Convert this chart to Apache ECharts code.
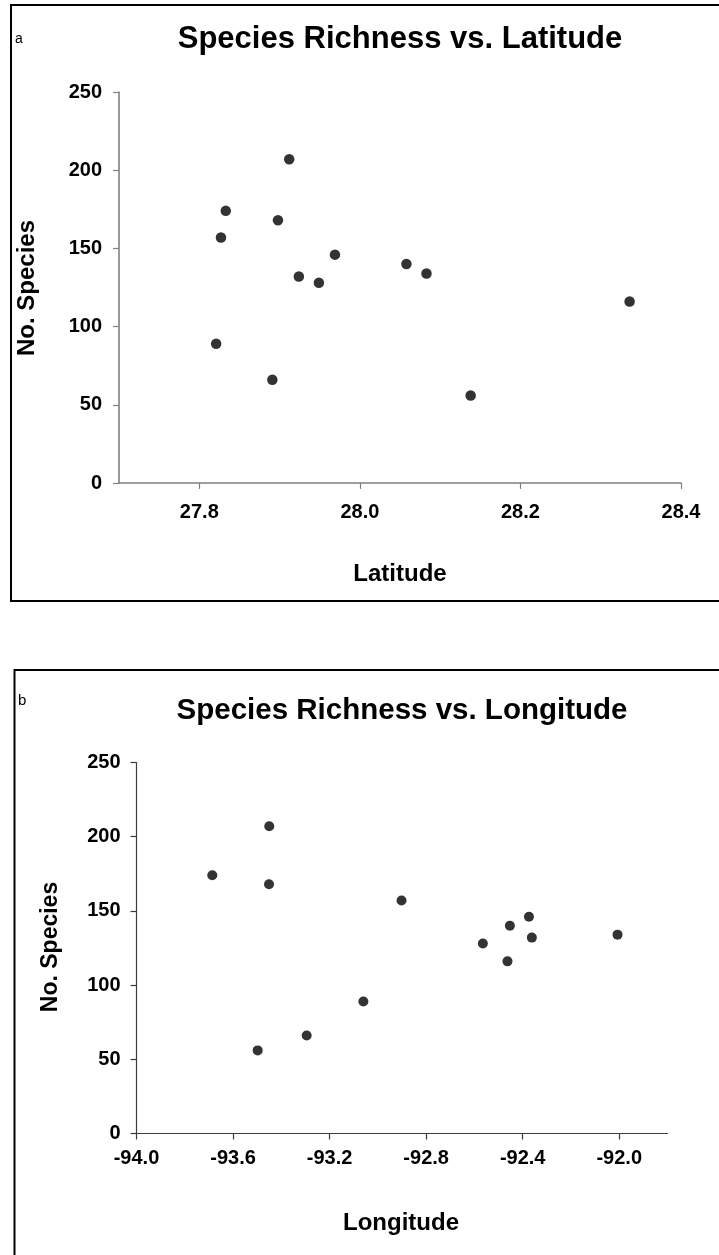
<!DOCTYPE html>
<html>
<head>
<meta charset="utf-8">
<script src="https://cdn.jsdelivr.net/npm/echarts@6/dist/echarts.min.js"></script>
<style>
  html, body { margin: 0; padding: 0; background: #fff; }
  #chart { width: 719px; height: 1255px; }
</style>
</head>
<body>
<div id="chart"></div>
<script>
// Survey sites: latitude, longitude and number of species recorded
const latitude  = [27.912, 27.833, 27.898, 27.827, 27.969, 28.058, 28.083, 27.924, 27.949, 28.336, 27.821, 27.891, 28.138];
const longitude = [-93.450, -93.686, -93.451, -92.902, -92.374, -92.453, -92.007, -92.362, -92.565, -92.463, -93.060, -93.295, -93.498];
const species   = [207, 174, 168, 157, 146, 140, 134, 132, 128, 116, 89, 66, 56];

const latTicks = [27.8, 28.0, 28.2, 28.4];
const lonTicks = [-94.0, -93.6, -93.2, -92.8, -92.4, -92.0];
const speciesTicks = [0, 50, 100, 150, 200, 250];

const FONT = '"Liberation Sans", Arial, sans-serif';

const latPoints = latitude.map((v, i) => [v, species[i]]);
const lonPoints = longitude.map((v, i) => [v, species[i]]);

function yAxisFor(gridIndex, color, margin) {
  return {
    type: 'value', gridIndex: gridIndex,
    min: speciesTicks[0], max: speciesTicks[speciesTicks.length - 1], interval: 50,
    splitLine: { show: false },
    axisLine: { show: true, lineStyle: { color: color, width: gridIndex === 0 ? 1.6 : 1.2 } },
    axisTick: { show: true, inside: false, length: 6, lineStyle: { color: color, width: 1.2 } },
    axisLabel: { color: '#000', fontFamily: FONT, fontWeight: 'bold', fontSize: 20, margin: margin }
  };
}

const chart = echarts.init(document.getElementById('chart'), null, { renderer: 'canvas' });

chart.setOption({
  animation: false,
  backgroundColor: '#fff',
  grid: [
    { left: 119, top: 92, width: 562, height: 391 },
    { left: 136.5, top: 762.5, width: 531, height: 371 }
  ],
  xAxis: [
    {
      type: 'value', gridIndex: 0, min: 27.7, max: 28.4,
      splitLine: { show: false },
      axisLine: { show: true, onZero: false, lineStyle: { color: '#808080', width: 1.6 } },
      axisTick: { show: true, length: 6, customValues: latTicks, lineStyle: { color: '#808080', width: 1.2 } },
      axisLabel: {
        customValues: latTicks, color: '#000', fontFamily: FONT, fontWeight: 'bold', fontSize: 20, margin: 19,
        formatter: v => v.toFixed(1)
      }
    },
    {
      type: 'value', gridIndex: 1, min: -94.0, max: -91.8,
      splitLine: { show: false },
      axisLine: { show: true, onZero: false, lineStyle: { color: '#3c3c3c', width: 1.2 } },
      axisTick: { show: true, length: 6, customValues: lonTicks, lineStyle: { color: '#3c3c3c', width: 1.2 } },
      axisLabel: {
        customValues: lonTicks, color: '#000', fontFamily: FONT, fontWeight: 'bold', fontSize: 20, margin: 15,
        formatter: v => v.toFixed(1)
      }
    }
  ],
  yAxis: [
    yAxisFor(0, '#808080', 17),
    yAxisFor(1, '#3c3c3c', 16)
  ],
  series: [
    {
      type: 'scatter', xAxisIndex: 0, yAxisIndex: 0, data: latPoints,
      symbol: 'circle', symbolSize: 10.5, itemStyle: { color: '#000' }, silent: true
    },
    {
      type: 'scatter', xAxisIndex: 1, yAxisIndex: 1, data: lonPoints,
      symbol: 'circle', symbolSize: 10, itemStyle: { color: '#000' }, silent: true
    }
  ],
  graphic: [
    // panel frames
    { type: 'rect', shape: { x: 11, y: 5, width: 720, height: 596 },
      style: { fill: 'none', stroke: '#000', lineWidth: 2 }, silent: true },
    { type: 'rect', shape: { x: 14.5, y: 670, width: 720, height: 600 },
      style: { fill: 'none', stroke: '#000', lineWidth: 2 }, silent: true },
    // panel letters
    { type: 'text', x: 15, y: 39, style: { text: 'a', font: '14px ' + FONT, fill: '#000', align: 'left', verticalAlign: 'middle' } },
    { type: 'text', x: 18, y: 701, style: { text: 'b', font: '15px ' + FONT, fill: '#000', align: 'left', verticalAlign: 'middle' } },
    // titles
    { type: 'text', x: 400, y: 39, style: { text: 'Species Richness vs. Latitude', font: 'bold 31px ' + FONT, fill: '#000', align: 'center', verticalAlign: 'middle' } },
    { type: 'text', x: 402, y: 711, style: { text: 'Species Richness vs. Longitude', font: 'bold 29.5px ' + FONT, fill: '#000', align: 'center', verticalAlign: 'middle' } },
    // axis names
    { type: 'text', x: 400, y: 574, style: { text: 'Latitude', font: 'bold 24px ' + FONT, fill: '#000', align: 'center', verticalAlign: 'middle' } },
    { type: 'text', x: 401, y: 1223, style: { text: 'Longitude', font: 'bold 24px ' + FONT, fill: '#000', align: 'center', verticalAlign: 'middle' } },
    { type: 'text', x: 27, y: 288, rotation: Math.PI / 2, style: { text: 'No. Species', font: 'bold 24px ' + FONT, fill: '#000', align: 'center', verticalAlign: 'middle' } },
    { type: 'text', x: 51, y: 947, rotation: Math.PI / 2, style: { text: 'No. Species', font: 'bold 23px ' + FONT, fill: '#000', align: 'center', verticalAlign: 'middle' } }
  ]
});
</script>
</body>
</html>
